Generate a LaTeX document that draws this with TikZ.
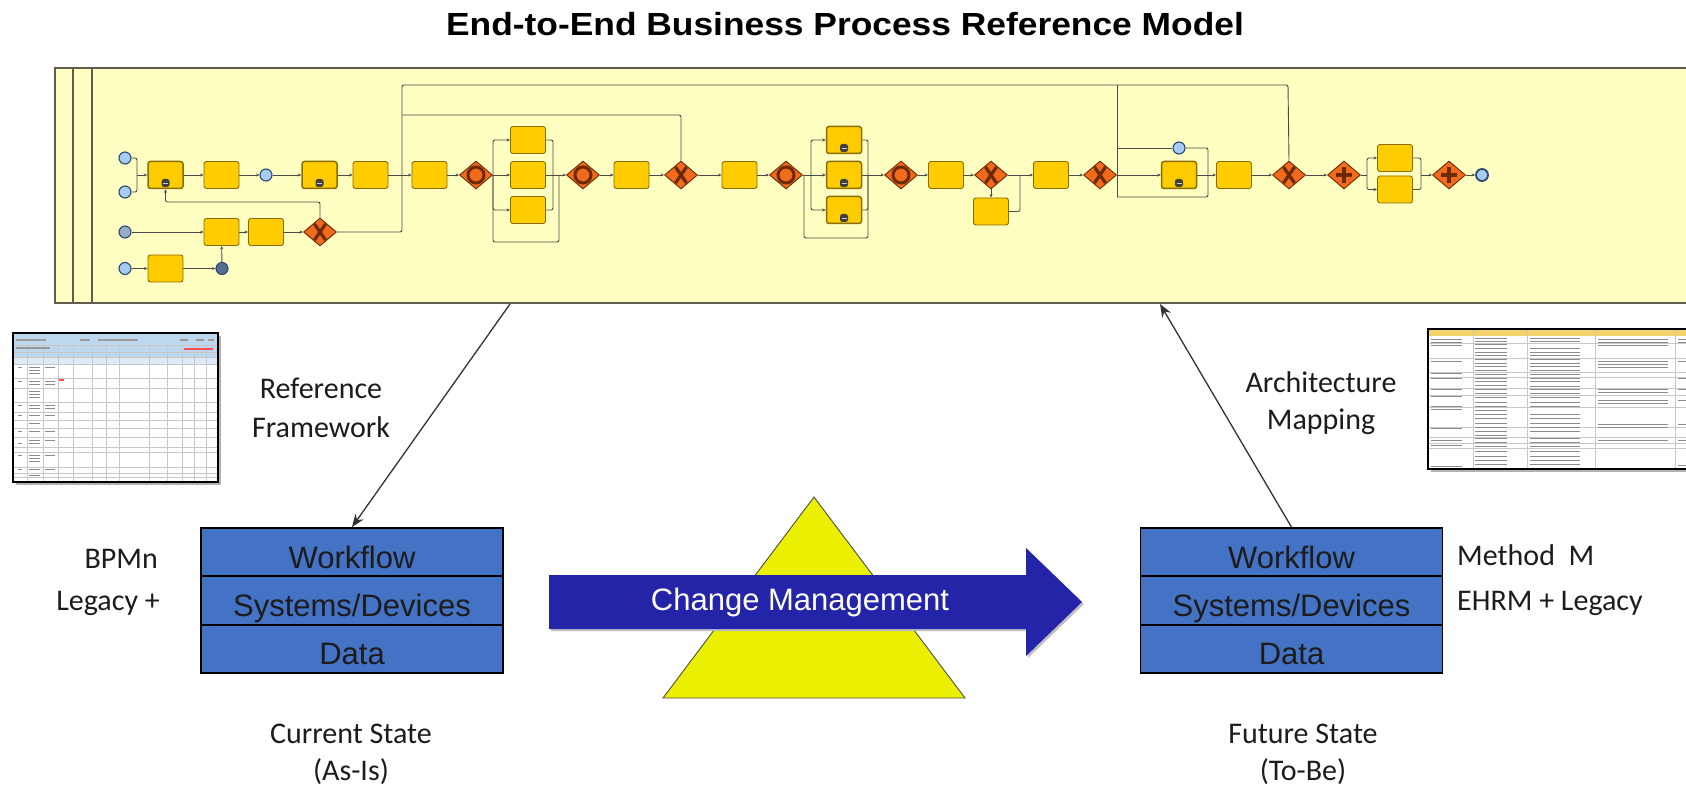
\documentclass[tikz,border=0pt]{standalone}
\usepackage{fontspec}
\setmainfont{Carlito}
\newfontfamily\arialf{Liberation Sans}
\usetikzlibrary{shapes.geometric,arrows.meta}

\definecolor{poolfill}{HTML}{FFFFC2}
\definecolor{poolline}{HTML}{5F5F50}
\definecolor{taskfill}{HTML}{FFCC00}
\definecolor{taskline}{HTML}{8A6D00}
\definecolor{gwfill}{HTML}{F26A1B}
\definecolor{gwline}{HTML}{6B2A00}
\definecolor{evfill}{HTML}{A6CBF4}
\definecolor{evline}{HTML}{2B4873}
\definecolor{flowc}{HTML}{4A4A4A}
\definecolor{layerblue}{HTML}{4472C4}
\definecolor{cmblue}{HTML}{2424A8}
\definecolor{triyellow}{HTML}{EAF000}
\definecolor{txt}{HTML}{1C1C1C}
\definecolor{tabhead}{HTML}{BDD7EE}
\definecolor{tabgrid}{HTML}{C8C8C8}
\definecolor{tabyellow}{HTML}{F5D36C}

\tikzset{
  task/.style={rectangle, rounded corners=2.5pt, draw=taskline, fill=taskfill,
    line width=0.9pt, minimum width=35pt, minimum height=27pt, inner sep=0pt},
  sub/.style={line width=1.5pt, path picture={
    \fill[black!75] ([shift={(-4,-1.5)}]path picture bounding box.south)
      rectangle ([shift={(4,-9.5)}]path picture bounding box.south);
    \draw[white!80!black, line width=0.7pt]
      ([shift={(-2.5,-5.5)}]path picture bounding box.south)
      -- ([shift={(2.5,-5.5)}]path picture bounding box.south);}},
  gwbase/.style={diamond, draw=gwline, fill=gwfill, line width=0.9pt,
    minimum width=33pt, minimum height=28pt, inner sep=0pt},
  gwx/.style={gwbase, path picture={
    \draw[line width=3.2pt] ([shift={(-5.5,-8)}]path picture bounding box.center)
      -- ([shift={(5.5,8)}]path picture bounding box.center);
    \draw[line width=3.2pt] ([shift={(-5.5,8)}]path picture bounding box.center)
      -- ([shift={(5.5,-8)}]path picture bounding box.center);}},
  gwo/.style={gwbase, path picture={
    \draw[line width=3pt] (path picture bounding box.center) circle (8pt);}},
  gwp/.style={gwbase, path picture={
    \draw[line width=3.4pt] ([xshift=-8pt]path picture bounding box.center)
      -- ([xshift=8pt]path picture bounding box.center);
    \draw[line width=3.4pt] ([yshift=-8pt]path picture bounding box.center)
      -- ([yshift=8pt]path picture bounding box.center);}},
  ev/.style={circle, draw=evline, fill=evfill, line width=1.1pt,
    minimum size=12pt, inner sep=0pt},
  flow/.style={draw=flowc, line width=0.9pt, rounded corners=2pt},
  flowa/.style={flow, -{Stealth[length=3.5pt,width=3pt]}},
  layer/.style={rectangle, draw=black, fill=layerblue, line width=1.8pt,
    minimum width=302pt, minimum height=48.3pt, inner sep=0pt,
    text height=32pt, text depth=0pt, text=txt,
    font=\arialf\fontsize{31}{36}\selectfont},
  lbl/.style={inner sep=0pt, text=txt, font=\fontsize{30}{36}\selectfont},
  conn/.style={draw=black!80, line width=1.3pt,
    -{Stealth[length=13pt,width=10pt]}},
  bar/.style={fill=black!45},
}

\begin{document}
\begin{tikzpicture}[x=1pt,y=-1pt]
\useasboundingbox (0,0) rectangle (1686,786);
\fill[white] (0,0) rectangle (1686,786);

% ---------- title ----------
\node[anchor=base, inner sep=0pt, text=black,
  font=\arialf\bfseries\fontsize{32}{38}\selectfont] (title) at (845,36)
  {\scalebox{1.105}[1]{End-to-End Business Process Reference Model}};

% ---------- process pool ----------
\draw[poolline, fill=poolfill, line width=1.5pt] (55,68) rectangle (1700,303);
\draw[poolline, line width=1.2pt] (73,68) -- (73,303);
\draw[poolline, line width=1.2pt] (92,68) -- (92,303);

% events
\node[ev] (s1) at (125,158) {};
\node[ev] (s2) at (125,192) {};
\node[ev, fill=evfill!60!gray] (s3) at (125,232) {};
\node[ev] (s4) at (125,268.5) {};
\node[ev] (e1) at (266,175) {};
\node[ev, fill=evline!80] (e3) at (222,268.5) {};
\node[ev] (e2) at (1179,148) {};
\node[ev, line width=1.8pt] (end) at (1482,175) {};

% main row tasks
\node[task, sub] (A1) at (165.5,175) {};
\node[task] (A2) at (221.5,175) {};
\node[task, sub] (A3) at (319.5,175) {};
\node[task] (A4) at (370.5,175) {};
\node[task] (A5) at (429.5,175) {};
\node[gwo] (G1) at (476,175) {};
\node[task] (P1) at (528,140) {};
\node[task] (P2) at (528,175) {};
\node[task] (P3) at (528,210) {};
\node[gwo] (G2) at (583,175) {};
\node[task] (C1) at (631.5,175) {};
\node[gwx] (G3) at (681,175) {};
\node[task] (C2) at (739.5,175) {};
\node[gwo] (G4) at (786,175) {};
\node[task, sub] (Q1) at (844,140) {};
\node[task, sub] (Q2) at (844,175) {};
\node[task, sub] (Q3) at (844,210) {};
\node[gwo] (G5) at (901,175) {};
\node[task] (C3) at (946,175) {};
\node[gwx] (G6) at (991,175) {};
\node[task] (C3b) at (991,211.5) {};
\node[task] (C4) at (1051,175) {};
\node[gwx] (G7) at (1100,175) {};
\node[task, sub] (D1) at (1179,175) {};
\node[task] (D2) at (1234,175) {};
\node[gwx] (G8) at (1289,175) {};
\node[gwp] (G9) at (1344,175) {};
\node[task] (R1) at (1395,158) {};
\node[task] (R2) at (1395,189.5) {};
\node[gwp] (G10) at (1449,175) {};

% lower row
\node[task] (B1) at (221.5,232) {};
\node[task] (B2) at (266,232) {};
\node[gwx] (GX) at (320,232) {};
\node[task] (B3) at (165.5,268.5) {};

% junction points
\coordinate (jS) at (137,175);
\coordinate (lp) at (165.5,202);
\coordinate (jV) at (402,232);
\coordinate (jM) at (402,175);
\coordinate (t1) at (402,85);
\coordinate (t2) at (1288,85);
\coordinate (u1) at (402,115);
\coordinate (u2) at (681,115);
\coordinate (k1) at (493,175);
\coordinate (lb1) at (493,242);
\coordinate (lb2) at (559,242);
\coordinate (m1x) at (559,175);
\coordinate (m1) at (553,175);
\coordinate (k2a) at (804,175);
\coordinate (k2) at (811,175);
\coordinate (lb3) at (804,238);
\coordinate (lb4) at (868,238);
\coordinate (m2) at (868,175);
\coordinate (j6) at (1020,175);
\coordinate (b0) at (1117,85);
\coordinate (bT) at (1117,148);
\coordinate (bM) at (1117,175);
\coordinate (bB) at (1117,197);
\coordinate (rT) at (1208,148);
\coordinate (rM) at (1208,175);
\coordinate (rB) at (1208,197);
\coordinate (k3) at (1367,175);
\coordinate (m3) at (1421,175);

% sequence flows
\draw[flow] (s1) -| (jS);
\draw[flow] (s2) -| (jS);
\draw[flowa] (jS) -- (A1);
\draw[flowa] (A1) -- (A2);
\draw[flowa] (A2) -- (e1);
\draw[flowa] (e1) -- (A3);
\draw[flowa] (A3) -- (A4);
\draw[flowa] (A4) -- (A5);
\draw[flowa] (A5) -- (G1);
\draw[flow] (G1) -- (k1);
\draw[flowa] (k1) |- (P1);
\draw[flowa] (k1) -- (P2);
\draw[flowa] (k1) |- (P3);
\draw[flow] (k1) -- (lb1) -- (lb2) -- (m1x);
\draw[flow] (P1) -| (m1);
\draw[flow] (P3) -| (m1);
\draw[flow] (P2) -- (m1);
\draw[flowa] (m1) -- (G2);
\draw[flowa] (G2) -- (C1);
\draw[flowa] (C1) -- (G3);
\draw[flowa] (G3) -- (C2);
\draw[flowa] (C2) -- (G4);
\draw[flow] (G4) -- (k2);
\draw[flowa] (k2) |- (Q1);
\draw[flowa] (k2) -- (Q2);
\draw[flowa] (k2) |- (Q3);
\draw[flow] (k2a) -- (lb3) -- (lb4) -- (m2);
\draw[flow] (Q1) -| (m2);
\draw[flow] (Q3) -| (m2);
\draw[flow] (Q2) -- (m2);
\draw[flowa] (m2) -- (G5);
\draw[flowa] (G5) -- (C3);
\draw[flowa] (C3) -- (G6);
\draw[flowa] (G6) -- (C3b);
\draw[flow] (C3b) -| (j6);
\draw[flow] (G6) -- (j6);
\draw[flowa] (j6) -- (C4);
\draw[flowa] (C4) -- (G7);
\draw[flow] (G7) -- (bM);
\draw[flow] (b0) -- (bB);
\draw[flowa] (bM) -- (D1);
\draw[flow] (bT) -- (e2);
\draw[flow] (e2) -- (rT) -- (rB) -- (bB);
\draw[flow] (D1) -- (rM);
\draw[flowa] (rM) -- (D2);
\draw[flowa] (D2) -- (G8);
\draw[flowa] (G8) -- (G9);
\draw[flow] (G9) -- (k3);
\draw[flowa] (k3) |- (R1);
\draw[flowa] (k3) |- (R2);
\draw[flow] (R1) -| (m3);
\draw[flow] (R2) -| (m3);
\draw[flowa] (m3) -- (G10);
\draw[flowa] (G10) -- (end);
% loops back to the main line
\draw[flow] (G8.north) -- (t2) -- (t1) -- (jM);
\draw[flow] (G3.north) -- (u2) -- (u1);
% lower lane flows
\draw[flowa] (s3) -- (B1);
\draw[flowa] (B1) -- (B2);
\draw[flowa] (B2) -- (GX);
\draw[flowa] (s4) -- (B3);
\draw[flowa] (B3) -- (e3);
\draw[flowa] (e3) -- (B1);
\draw[flowa] (GX.north) |- (lp) -- (A1.south);
\draw[flow] (GX) -- (jV) -- (jM);

% ---------- spreadsheet thumbnail, left ----------
\fill[black!30] (16,336) rectangle (221,485);
\fill[white] (13,333) rectangle (218,482);
\fill[tabhead] (13,334) rectangle (218,357);
\fill[tabhead!50] (13,357) rectangle (218,364);
\foreach \y in {345,352,357,364,378,388,402,412,420,428,437,447,452,467,473,477}
  \draw[tabgrid, line width=0.6pt] (13,\y) -- (218,\y);
\foreach \x in {27,43,58,73,92,106,119,149,167,182,194,206}
  \draw[tabgrid, line width=0.6pt] (\x,345) -- (\x,482);
\foreach \y in {367,370,373,381,384,391,394,397,405,408,415,423,431,440,443,455,458,461,469,475}
  \fill[bar] (29,\y) rectangle (40,\y+1.2);
\foreach \y in {367,381,384,405,408,415,431,440,455,469}
  \fill[bar] (45,\y) rectangle (55,\y+1.2);
\foreach \y in {367,381,405,415,431,443,455,469}
  \fill[bar] (18,\y) rectangle (22,\y+1.2);
\foreach \x/\w in {16/30, 80/10, 98/40, 180/8, 196/8, 208/6}
  \fill[black!40] (\x,339) rectangle (\x+\w,340.5);
\fill[black!40] (16,347) rectangle (50,348.5);
\fill[red!70] (59,379) rectangle (64,380.5);
\fill[red!70] (184,348) rectangle (213,349.5);
\draw[black, line width=1.6pt] (13,333) rectangle (218,482);

% ---------- mapping table thumbnail, right ----------
\fill[black!30] (1431,332) rectangle (1700,472);
\fill[white] (1428,329) rectangle (1700,469);
\fill[tabyellow] (1428,330) rectangle (1700,336);
\foreach \y in {343,358,372,377,388,395,407,427,437,443,448}
  \draw[tabgrid, line width=0.6pt] (1428,\y) -- (1700,\y);
\foreach \x in {1473,1527,1595,1675}
  \draw[tabgrid, line width=0.6pt] (\x,329) -- (\x,469);
\foreach \y in {339,342,345,361,373,378,389,396,406,409,428,440,445,466}
  \fill[bar] (1431,\y) rectangle (1462,\y+1.2);
\foreach \y in {338,341,344,348,352,355,359,363,366,370,374,378,381,385,389,393,397,402,406,410,414,418,423,427,431,435,438,442,446,451,456,460,464}
  \fill[bar] (1475,\y) rectangle (1507,\y+1.2);
\foreach \y in {338,341,348,352,355,359,363,366,370,374,378,381,386,389,393,397,402,406,414,418,423,427,431,438,442,446,451,456,460,464}
  \fill[bar] (1530,\y) rectangle (1580,\y+1.2);
\foreach \y in {339,342,345,361,364,367,389,392,400,403,424,427,440}
  \fill[bar] (1598,\y) rectangle (1668,\y+1.2);
\foreach \y in {339,342,361,378,389,400,424,440,465}
  \fill[bar] (1678,\y) rectangle (1690,\y+1.2);
\draw[black, line width=1.6pt] (1428,329) rectangle (1700,469);

% ---------- change management ----------
\draw[black!70, fill=triyellow, line width=0.9pt] (814,497) -- (965,698) -- (663,698) -- cycle;
\fill[black!25] (551,577) -- (1028,577) -- (1028,550) -- (1084,604) -- (1028,658) -- (1028,631) -- (551,631) -- cycle;
\fill[cmblue] (549,575) -- (1026,575) -- (1026,548) -- (1082,602) -- (1026,656) -- (1026,629) -- (549,629) -- cycle;
\node[inner sep=0pt, text=white, font=\arialf\fontsize{31}{36}\selectfont] (cm) at (800,602) {Change Management};

% ---------- current state ----------
\node[layer] (wf1) at (352,552.2) {Workflow};
\node[layer] (sd1) at (352,600.5) {Systems/Devices};
\node[layer] (dt1) at (352,648.8) {Data};
\node[lbl, anchor=base east] (bpmn) at (158,568) {BPMn};
\node[lbl, anchor=base east] (leg1) at (160,610) {Legacy +};
\node[lbl, anchor=base] (cs1) at (351,743) {Current State};
\node[lbl, anchor=base] (cs2) at (351,780) {(As-Is)};

% ---------- future state ----------
\node[layer] (wf2) at (1291.5,552.2) {Workflow};
\node[layer] (sd2) at (1291.5,600.5) {Systems/Devices};
\node[layer] (dt2) at (1291.5,648.8) {Data};
\node[lbl, anchor=base west] (mm) at (1457,565) {Method\ \ M};
\node[lbl, anchor=base west] (ehrm) at (1457,610) {EHRM + Legacy};
\node[lbl, anchor=base] (fs1) at (1303,743) {Future State};
\node[lbl, anchor=base] (fs2) at (1303,780) {(To-Be)};

% ---------- framework arrows ----------
\coordinate (rf) at (510,304);
\coordinate (am) at (1160,304);
\draw[conn] (rf) -- (wf1.north);
\draw[conn] (wf2.north) -- (am);
\node[lbl, anchor=base] (ref1) at (321,398) {Reference};
\node[lbl, anchor=base] (ref2) at (321,437) {Framework};
\node[lbl, anchor=base] (arc1) at (1321,392) {Architecture};
\node[lbl, anchor=base] (arc2) at (1321,429) {Mapping};
\end{tikzpicture}
\end{document}
